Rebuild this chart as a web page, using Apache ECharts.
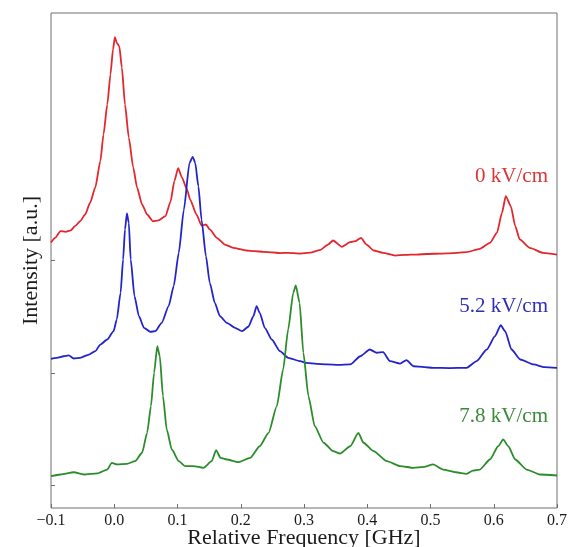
<!DOCTYPE html>
<html>
<head>
<meta charset="utf-8">
<script src="https://cdn.jsdelivr.net/npm/echarts@6/dist/echarts.min.js"></script>
<style>
  html, body { margin: 0; padding: 0; background: #fff; }
  #chart { width: 571px; height: 547px; }
</style>
</head>
<body>
<div id="chart"></div>
<script>
// Spectra at three field strengths, vertically offset (arbitrary units)
const seriesNames = ['0 kV/cm', '5.2 kV/cm', '7.8 kV/cm'];

const freq0 = [-0.100,-0.093,-0.085,-0.077,-0.069,-0.062,-0.054,-0.046,-0.038,-0.030,-0.022,-0.017,-0.011,-0.006,-0.002,0.001,0.004,0.008,0.012,0.017,0.023,0.030,0.036,0.044,0.052,0.061,0.070,0.081,0.089,0.095,0.101,0.107,0.115,0.120,0.130,0.138,0.145,0.151,0.162,0.175,0.188,0.209,0.222,0.236,0.250,0.262,0.275,0.294,0.310,0.325,0.338,0.346,0.360,0.373,0.381,0.390,0.399,0.410,0.425,0.444,0.460,0.478,0.495,0.515,0.535,0.557,0.578,0.594,0.605,0.613,0.619,0.627,0.634,0.641,0.657,0.678,0.700];
const intensity0 = [2.160,2.204,2.261,2.255,2.267,2.305,2.349,2.409,2.516,2.649,2.883,3.120,3.387,3.653,3.876,3.985,3.935,3.905,3.716,3.387,3.093,2.827,2.649,2.498,2.409,2.349,2.356,2.394,2.524,2.705,2.822,2.738,2.631,2.542,2.409,2.311,2.320,2.276,2.202,2.142,2.113,2.089,2.083,2.077,2.072,2.066,2.068,2.062,2.070,2.092,2.142,2.178,2.122,2.163,2.172,2.202,2.142,2.089,2.068,2.044,2.050,2.053,2.058,2.062,2.066,2.074,2.104,2.157,2.246,2.424,2.572,2.483,2.305,2.187,2.113,2.068,2.053];

const freq52 = [-0.100,-0.091,-0.080,-0.072,-0.064,-0.054,-0.040,-0.030,-0.022,-0.011,-0.001,0.004,0.010,0.014,0.017,0.020,0.023,0.026,0.032,0.039,0.047,0.057,0.065,0.075,0.086,0.094,0.102,0.110,0.119,0.124,0.128,0.133,0.138,0.145,0.151,0.159,0.167,0.178,0.191,0.202,0.212,0.220,0.225,0.230,0.238,0.249,0.262,0.275,0.294,0.304,0.320,0.336,0.355,0.373,0.389,0.404,0.415,0.425,0.436,0.452,0.462,0.473,0.490,0.504,0.530,0.557,0.573,0.589,0.602,0.611,0.618,0.628,0.642,0.663,0.680,0.700];
const intensity52 = [1.126,1.135,1.149,1.156,1.129,1.135,1.164,1.194,1.253,1.298,1.372,1.476,1.713,2.009,2.276,2.418,2.335,2.009,1.683,1.505,1.402,1.366,1.372,1.446,1.594,1.772,2.068,2.450,2.868,2.922,2.868,2.660,2.364,2.038,1.802,1.624,1.505,1.446,1.402,1.372,1.411,1.505,1.594,1.535,1.402,1.298,1.194,1.135,1.105,1.090,1.082,1.076,1.073,1.076,1.149,1.209,1.180,1.185,1.105,1.084,1.114,1.060,1.052,1.046,1.044,1.046,1.105,1.209,1.327,1.425,1.372,1.209,1.120,1.076,1.052,1.046];

const freq78 = [-0.100,-0.085,-0.064,-0.048,-0.027,-0.011,-0.004,0.004,0.020,0.033,0.044,0.052,0.058,0.063,0.068,0.072,0.077,0.083,0.091,0.102,0.112,0.125,0.141,0.154,0.161,0.168,0.178,0.196,0.215,0.230,0.244,0.257,0.267,0.275,0.283,0.287,0.293,0.299,0.307,0.317,0.331,0.346,0.357,0.373,0.386,0.394,0.410,0.431,0.452,0.473,0.490,0.504,0.520,0.540,0.557,0.567,0.578,0.594,0.607,0.615,0.623,0.634,0.652,0.673,0.700];
const intensity78 = [0.083,0.098,0.118,0.098,0.107,0.142,0.202,0.187,0.193,0.216,0.291,0.468,0.705,1.002,1.238,1.149,0.794,0.498,0.320,0.216,0.172,0.172,0.157,0.216,0.314,0.246,0.231,0.207,0.246,0.349,0.468,0.705,1.031,1.387,1.713,1.778,1.624,1.180,0.794,0.527,0.380,0.305,0.284,0.349,0.468,0.380,0.305,0.216,0.172,0.157,0.165,0.187,0.142,0.118,0.104,0.133,0.142,0.231,0.349,0.409,0.349,0.231,0.142,0.098,0.089];

const xTickLabels = ['\u22120.1','0.0','0.1','0.2','0.3','0.4','0.5','0.6','0.7'];
const yTickValues = [0, 1, 2];

const zip = (xs, ys) => xs.map((x, i) => [x, ys[i]]);

const SERIF = '"Liberation Serif", "DejaVu Serif", serif';
const lineColors = ['#e3262c', '#2323cc', '#2a8c2a'];
const labelColors = ['#dc3535', '#2f2fb5', '#3b8a3b'];

const chart = echarts.init(document.getElementById('chart'), null, { renderer: 'canvas' });

const traces = [zip(freq0, intensity0), zip(freq52, intensity52), zip(freq78, intensity78)];

chart.setOption({
  animation: false,
  backgroundColor: '#ffffff',
  grid: {
    left: 51, right: 14, top: 13, bottom: 39,
    containLabel: false,
    outerBoundsMode: 'none',
    show: true, borderColor: '#6e6e6e', borderWidth: 1, backgroundColor: 'transparent'
  },
  xAxis: {
    type: 'value',
    min: -0.1, max: 0.7, interval: 0.1,
    axisLine: { show: false, onZero: false },
    axisTick: { show: true, inside: true, length: 4, lineStyle: { color: '#6e6e6e' } },
    splitLine: { show: false },
    axisLabel: {
      color: '#1a1a1a', fontFamily: SERIF, fontSize: 16, margin: 5,
      formatter: v => xTickLabels[Math.round((v + 0.1) * 10)]
    },
    name: 'Relative Frequency [GHz]',
    nameLocation: 'middle', nameGap: 19, nameMoveOverlap: false,
    nameTextStyle: { color: '#1a1a1a', fontFamily: SERIF, fontSize: 22 }
  },
  yAxis: {
    type: 'value',
    min: -0.2, max: 4.2,
    axisLine: { show: false, onZero: false },
    axisTick: { show: true, inside: true, length: 4, customValues: yTickValues, lineStyle: { color: '#6e6e6e' } },
    axisLabel: { show: false },
    splitLine: { show: false },
    name: 'Intensity [a.u.]',
    nameLocation: 'middle', nameGap: 9, nameRotate: 90, nameMoveOverlap: false,
    nameTextStyle: { color: '#1a1a1a', fontFamily: SERIF, fontSize: 22 }
  },
  series: traces.map((data, i) => ({
    name: seriesNames[i],
    type: 'line',
    data: data,
    showSymbol: false,
    symbol: 'none',
    smooth: 0.2,
    smoothMonotone: 'x',
    clip: true,
    lineStyle: { color: lineColors[i], width: 1.8, join: 'round' }
  })),
  graphic: [
    { type: 'text', right: 23, top: 166, style: { text: seriesNames[0], fill: labelColors[0], font: '21px ' + SERIF } },
    { type: 'text', right: 23, top: 296, style: { text: seriesNames[1], fill: labelColors[1], font: '21px ' + SERIF } },
    { type: 'text', right: 23, top: 406, style: { text: seriesNames[2], fill: labelColors[2], font: '21px ' + SERIF } }
  ]
});
</script>
</body>
</html>
